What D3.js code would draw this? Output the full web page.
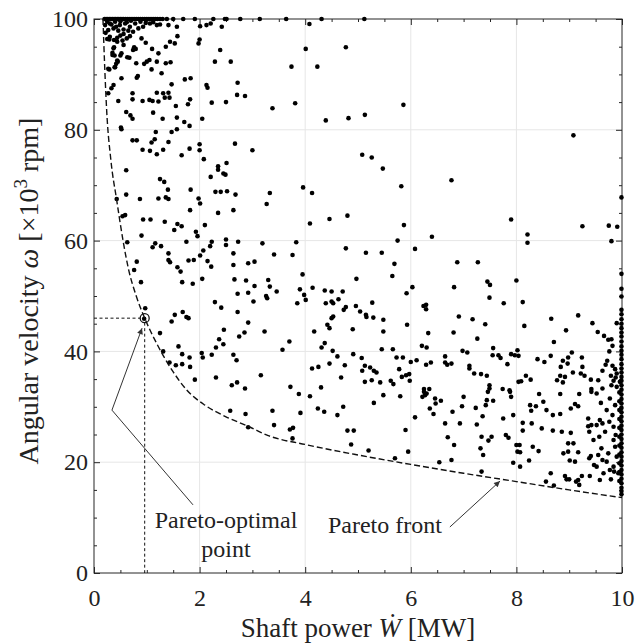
<!DOCTYPE html>
<html>
<head>
<meta charset="utf-8">
<script src="https://cdn.jsdelivr.net/npm/d3@7"></script>
<style>
  body { margin: 0; background: #fff; }
  svg text { font-family: "Liberation Serif", "Times New Roman", serif; fill: #222; }
</style>
</head>
<body>
<svg id="chart" width="635" height="644"></svg>
<script>
// Axes
const xMajor = [0, 2, 4, 6, 8, 10];
const yMajor = [0, 20, 40, 60, 80, 100];
const xMinor = d3.range(0, 10.01, 0.5);
const yMinor = d3.range(0, 100.1, 5);

// Designs sitting on the 100 krpm upper bound (W only)
const ceilingW = [0.20,0.23,0.26,0.29,0.32,0.35,0.38,0.41,0.44,0.47,0.50,0.53,0.56,0.60,0.64,0.68,0.72,0.76,0.80,0.84,0.88,0.92,0.96,1.00,1.04,1.08,1.12,1.16,1.20,1.25,1.30,1.38,1.50,1.69,1.91,2.26,2.48,2.51,2.77,3.14,3.64,4.31,5.12];

// Designs sitting on the 10 MW bound (omega only)
const edgeOmega = [67.8,54.0,51.3,49.9,47.5,46.7,45.8,45.0,44.2,43.4,42.7,41.8,40.9,40.1,39.4,38.6,37.7,36.9,36.2,35.4,34.7,33.9,33.1,32.2,31.4,30.6,29.8,29.0,28.2,27.4,26.6,25.8,25.0,24.2,23.4,22.6,21.8,21.0,20.2,19.4,18.6,17.8,17.0,16.2,15.4,14.8,14.2];
const edgeInnerOmega = [32.6,31.0,29.4,27.8,26.2,24.6,23.0,21.4,19.8,18.2,16.6];

// Scattered designs [W (MW), omega (x10^3 rpm)]
const upperPoints = [
[0.21,98.9],[0.30,99.2],[0.40,99.5],[0.49,98.9],[0.59,99.2],[0.68,98.6],[0.78,99.2],[0.27,98.0],[0.37,98.3],[0.46,97.9],[0.56,98.1],[0.65,97.9],[0.74,97.7],[0.84,98.3],[0.93,98.6],[1.06,99.2],[1.19,98.9],[1.41,98.9],[1.57,98.6],[0.68,96.9],[0.56,97.3],[0.29,96.3],[0.38,96.2],[0.44,95.9],[0.54,96.1],[0.56,95.3],[0.37,94.7],[0.35,93.9],[0.35,93.5],[0.52,93.8],[0.74,94.4],[0.90,96.5],[0.98,95.7],[1.10,94.6],[1.22,93.8],[1.44,95.9],[1.53,95.6],[1.36,95.0],[1.58,96.9],[1.98,95.6],[2.00,96.3],[2.01,98.7],[2.13,98.9],[2.21,99.2],[2.42,98.6],[2.39,94.4],[2.29,92.3],[2.59,92.3],[0.45,92.3],[0.42,91.9],[0.29,90.9],[0.40,91.3],[0.67,93.0],[0.80,92.0],[0.95,91.9],[1.00,92.3],[1.05,92.6],[1.19,92.3],[1.09,90.9],[1.36,92.0],[1.45,92.2],[1.28,90.2],[0.81,89.4],[0.83,89.7],[0.52,89.3],[0.37,88.1],[0.33,87.5],[0.73,86.6],[0.73,85.5],[0.27,86.6],[0.46,85.2],[0.92,85.2],[1.05,85.4],[1.11,85.2],[1.22,85.1],[1.19,86.7],[1.31,86.6],[1.34,85.8],[1.43,85.8],[1.41,86.7],[1.47,88.2],[1.72,89.1],[1.83,89.3],[2.13,88.1],[2.15,87.6],[2.72,88.5],[2.71,86.3],[2.86,86.1],[2.50,85.0],[2.23,84.9],[1.78,84.6],[1.82,85.5],[1.55,84.3],[0.61,83.2],[0.69,82.6],[0.73,82.0],[1.12,83.1],[1.30,82.0],[1.57,82.2],[1.71,81.4],[1.81,80.7],[2.05,82.0],[0.51,80.4],[0.52,80.1],[1.17,79.6],[1.47,79.6],[1.57,80.1],[0.73,78.1],[0.81,78.1],[1.15,78.3],[1.09,77.7],[1.41,77.8],[0.92,76.4],[1.06,76.2],[1.19,75.6],[1.31,76.4],[1.81,76.6],[2.00,77.4],[2.00,76.3],[1.66,75.4],[2.08,74.7],[2.67,77.5],[3.00,76.3],[2.35,73.4],[2.35,72.8],[2.51,74.0],[2.45,72.1],[2.49,71.9],[2.21,71.5],[0.61,72.7],[1.25,71.1],[1.33,70.6],[2.30,68.8],[2.40,68.8],[2.52,68.9],[2.68,68.3],[1.83,69.2],[1.40,69.2],[3.33,68.6],[0.43,67.5],[0.61,68.3],[0.87,67.5],[1.22,67.6],[1.36,67.8],[1.41,67.5],[1.98,67.6],
[0.25,99.5],[0.33,99.0],[0.42,98.6],[0.50,99.6],[0.62,99.4],[0.70,99.7],[0.88,99.5],[0.98,99.3],[1.12,99.4],[1.25,99.0],[0.22,97.5],[0.30,96.8],[0.50,97.0],[0.62,96.5],[0.25,96.4],[0.44,96.6],[0.38,94.9],[0.39,93.4],[0.44,92.5],[0.39,91.3],[0.27,91.0],[0.50,93.4],[0.76,94.9],[0.79,94.6],[0.63,93.1],
[4.08,99.1],[4.01,94.6],[4.77,94.9],[3.74,91.4],[4.23,91.4],[3.38,83.9],[3.81,84.8],[5.86,84.5],[4.39,81.7],[4.82,82.1],[5.13,82.7],[5.08,75.5],[5.26,75.0],[5.47,73.0],[5.82,69.8],[3.96,69.6],[4.13,68.6],[6.77,70.9],
[9.08,79.0]
];

const middlePoints = [
[2.01,66.7],[1.82,65.5],[2.35,65.0],[2.64,65.5],[3.27,66.6],[0.59,64.6],[0.54,64.4],[0.93,63.8],[1.07,63.8],[1.34,63.4],[1.58,63.0],[1.66,62.6],[1.52,61.9],[1.93,61.6],[2.10,62.8],[1.96,60.8],[0.90,60.9],[0.63,59.7],[1.75,59.8],[1.16,59.5],[1.11,58.8],[1.27,59.0],[2.23,59.8],[2.20,59.0],[2.50,60.2],[2.50,59.2],[2.73,59.8],[3.19,59.5],[1.41,57.7],[2.07,58.2],[2.01,57.3],[2.64,57.7],[1.41,56.5],[1.44,56.1],[1.79,56.4],[1.89,56.5],[2.15,56.3],[2.22,55.3],[2.64,55.6],[2.92,55.9],[3.04,56.2],[0.81,56.2],[0.76,54.7],[1.58,55.2],[1.64,54.4],[0.89,52.5],[1.67,52.5],[1.87,52.2],[2.05,53.1],[2.66,53.0],[2.88,52.8],[3.04,51.8],[3.30,52.9],[3.33,51.7],[2.72,50.4],[2.92,50.6],[3.26,50.0],[3.28,49.6],[3.02,49.0],[2.29,48.9],[2.41,47.9],[0.97,47.8],[0.95,45.9],[1.53,46.6],[1.68,47.1],[1.75,46.2],[1.79,46.0],[1.47,45.4],[2.72,47.1],[1.25,43.3],[2.46,43.9],[2.92,45.2],[2.85,43.4],[2.75,42.7],[2.37,42.2],[2.45,41.3],[3.23,43.6],[2.31,40.7],[1.60,40.9],[1.31,40.0],[1.67,39.5],[1.81,38.9],[2.04,39.7],[2.06,38.9],[2.23,39.4],[2.64,39.4],[2.70,38.4],[1.43,38.0],[1.55,37.5],[1.67,37.7],[1.82,37.2],[1.91,34.9],[2.31,35.3],[2.61,33.9],[2.71,34.4],[2.86,33.3],[3.16,35.7],
[4.09,63.1],[4.46,63.9],[4.80,64.5],[5.87,62.8],[6.40,60.7],[5.75,60.0],[3.83,59.7],[3.41,57.5],[3.76,57.4],[4.77,58.6],[5.15,57.8],[5.45,57.8],[6.08,58.5],[5.69,55.8],[5.65,53.6],[3.95,53.9],[4.97,53.1],[3.46,50.8],[3.90,51.2],[3.98,50.2],[4.01,49.3],[3.85,48.7],[4.14,51.5],[4.37,51.0],[4.50,50.8],[4.71,50.8],[4.39,48.7],[4.50,49.0],[4.53,48.7],[4.63,49.4],[4.77,48.0],[4.73,47.5],[4.96,48.2],[5.04,47.2],[5.15,46.6],[5.16,46.2],[5.27,48.8],[5.29,46.1],[5.48,45.7],[6.03,51.6],[5.92,50.5],[6.24,48.2],[6.29,48.4],[6.29,47.6],[4.53,46.3],[4.50,46.0],[4.42,44.8],[4.46,44.2],[4.90,44.0],[4.17,43.6],[5.48,43.6],[5.93,44.8],[6.33,43.3],[3.70,41.8],[3.57,40.3],[4.37,41.5],[4.31,40.7],[4.52,40.1],[4.61,39.1],[4.91,39.5],[5.07,38.8],[5.45,40.4],[5.66,40.4],[6.21,41.0],[6.30,40.7],[6.65,39.1],[6.65,38.0],[6.69,37.6],[5.73,38.9],[5.85,38.9],[6.11,38.4],[6.00,38.1],[6.29,37.6],[6.38,38.0],[4.46,37.8],[4.75,37.5],[4.13,36.9],[4.25,37.2],[5.13,37.4],[5.08,36.5],[5.23,37.1],[5.30,36.5],[5.35,36.2],[5.78,36.8],[5.91,35.7],[5.97,35.9],[5.83,35.4],[5.98,34.7],[4.68,35.3],[5.13,34.5],[5.26,34.8],[5.42,34.4],[5.62,34.7],[5.67,34.1],[6.25,33.2],[6.35,33.2],[3.72,33.6],[4.30,33.5],
[7.90,63.8],[8.21,61.1],[8.21,59.6],[9.25,62.6],[9.75,62.7],[9.91,62.5],[9.80,59.9],[6.88,56.1],[7.27,56.1],[6.82,51.6],[7.45,52.6],[7.50,52.0],[7.49,49.7],[8.00,52.8],[7.76,48.7],[8.12,48.9],[6.91,46.3],[7.17,45.8],[7.41,44.9],[8.15,44.6],[8.66,45.9],[9.17,46.5],[9.44,45.1],[8.94,43.8],[9.54,43.5],[9.66,42.8],[9.74,42.1],[9.80,42.2],[9.82,41.0],[9.76,40.0],[6.81,43.4],[7.26,42.3],[8.71,41.7],[6.98,40.1],[7.07,39.8],[6.77,37.8],[7.56,40.6],[7.55,39.3],[7.66,39.3],[7.70,38.8],[7.83,37.7],[7.90,39.5],[7.97,39.3],[8.04,39.2],[8.02,40.2],[8.40,38.6],[8.53,38.1],[8.65,39.2],[8.88,38.3],[8.97,37.8],[8.98,38.9],[9.05,39.8],[9.24,38.9],[9.25,37.2],[9.22,36.0],[9.29,35.6],[8.84,37.2],[9.07,36.2],[8.92,35.4],[8.83,35.6],[8.77,34.8],[8.88,34.4],[8.27,34.9],[8.18,35.6],[8.09,34.6],[8.04,34.5],[7.11,37.4],[7.11,36.9],[7.20,36.0],[7.33,35.9],[7.44,35.6],[7.49,33.9],[7.49,33.3],[7.74,33.2],[7.87,33.0],[9.41,34.9],[9.55,34.8],[9.63,36.5],[9.72,38.3],[9.69,37.6],[9.82,37.4],[9.87,36.8],[9.90,36.0],[9.79,35.6],[9.80,33.9],[9.84,34.7],[9.88,35.3],[9.96,34.5],[9.90,33.6],[9.63,33.3],[9.42,33.2],[9.90,45.1]
];

const lowerPoints = [
[2.58,29.3],[2.87,28.7],[2.92,26.3],
[3.88,32.3],[4.09,31.9],[3.38,29.3],[3.41,26.7],[3.91,28.9],[4.24,29.7],[4.36,29.1],[4.61,28.5],[4.72,30.0],[4.80,25.7],[4.92,25.7],[4.87,23.2],[3.71,25.9],[3.77,26.2],[3.76,24.3],[5.30,30.7],[5.48,32.1],[5.80,31.9],[5.20,22.1],[5.70,20.7],[5.95,21.9],[5.90,25.8],[6.08,28.1],[6.25,32.7],[6.27,32.1],[6.30,32.4],[6.22,31.8],[6.46,31.5],[6.47,30.6],[6.57,31.1],[6.36,29.7],[6.43,28.7],[6.65,27.0],[6.70,24.5],[6.54,20.0],
[7.00,31.8],[7.46,32.7],[7.88,32.7],[7.90,31.8],[6.97,30.1],[6.79,29.1],[7.23,29.8],[7.42,30.3],[7.44,31.2],[7.56,31.1],[7.36,28.3],[7.25,26.8],[6.93,27.0],[7.75,27.9],[7.94,28.5],[6.82,23.1],[6.77,20.4],[7.32,22.5],[7.37,21.3],[7.34,24.6],[7.47,23.9],[7.53,24.6],[7.80,24.9],[7.85,24.4],[7.34,18.3],[7.94,19.9],[8.07,19.2],[8.00,23.1],[8.06,23.1],[8.02,21.9],[8.07,21.8],[8.12,27.1],[8.12,25.7],[8.29,27.0],[8.24,20.3],[8.42,22.0],[8.31,22.8],[8.48,26.1],[8.43,32.3],[8.26,30.3],[8.37,30.1],[8.51,30.9],[8.28,29.3],[8.57,29.4],[8.69,28.5],[8.83,28.7],[8.83,32.3],[9.03,29.7],[9.11,30.5],[9.17,30.1],[9.19,32.3],[8.69,25.7],[8.86,25.5],[9.03,25.3],[8.98,23.4],[8.89,21.6],[8.98,21.9],[9.08,23.4],[9.17,21.8],[9.01,20.3],[9.11,20.1],[8.65,18.0],[8.56,16.5],[8.71,15.8],[8.92,17.5],[8.95,16.9],[9.00,16.9],[9.17,16.8],[9.19,15.9],[9.13,16.5],[9.24,17.5],[9.39,17.5],[9.58,16.8],[9.79,16.9],[9.36,27.9],[9.42,26.7],[9.52,26.7],[9.36,26.5],[9.38,25.5],[9.46,24.0],[9.41,21.1],[9.38,20.7],[9.47,19.5],[9.52,19.2],[9.63,20.4],[9.71,20.1],[9.55,21.3],[9.74,21.6],[9.61,22.5],[9.57,24.6],[9.68,25.5],[9.58,27.6],[9.63,27.0],[9.76,27.3],[9.82,28.5],[9.71,29.4],[9.60,30.7],[9.52,32.4],[9.42,32.7],[9.77,31.5],[9.87,30.3],[9.84,26.4],[9.84,24.0],[9.87,22.8],[9.84,19.2],[9.85,18.3],[9.93,18.0],[9.90,21.0],[9.88,24.9],[9.77,18.6],[9.65,18.0]
];

// Pareto front (dashed curve)
const frontW     = [0.17, 0.20, 0.24, 0.32, 0.43, 0.55, 0.65, 0.80, 0.96, 1.20, 1.50, 1.75, 2.10, 2.50, 2.94, 3.30, 4.00, 5.00, 6.00, 7.00, 8.00, 9.00, 10.0];
const frontOmega = [100,  92,   83.5, 74.5, 67.3, 60,   55,   50,   46,   41.2, 36.3, 33.1, 30.3, 28.2, 26.4, 24.8, 23.2, 21.3, 19.6, 18.0, 16.5, 15.0, 13.6];

// Pareto-optimal design
const optimum = [0.96, 46];

// Annotation anchors, in data units
const optLabelAt = [2.5, 8.1];
const optArrow = [[1.875, 12.3], [0.34, 29.4], [0.91, 44.2]];
const frontLabelAt = [5.51, 7.2];
const frontArrow = [[6.74, 8.3], [7.69, 16.6]];

const svg = d3.select('#chart');
const x = d3.scaleLinear().domain([0, 10]).range([94, 622]);
const y = d3.scaleLinear().domain([0, 100]).range([573, 19]);
const ink = '#262626';

svg.append('defs').append('marker')
  .attr('id', 'arrow').attr('viewBox', '0 0 10 10').attr('refX', 10).attr('refY', 5)
  .attr('markerWidth', 9).attr('markerHeight', 6).attr('markerUnits', 'userSpaceOnUse')
  .attr('orient', 'auto')
  .append('path').attr('d', 'M0,0L10,5L0,10z').attr('fill', '#333');

// grid
const grid = svg.append('g').attr('stroke', '#e6e6e6').attr('stroke-width', 1);
grid.selectAll('line.gx').data(xMajor.slice(1, -1)).enter().append('line')
  .attr('x1', d => x(d)).attr('x2', d => x(d)).attr('y1', y(0)).attr('y2', y(100));
grid.selectAll('line.gy').data(yMajor.slice(1, -1)).enter().append('line')
  .attr('y1', d => y(d)).attr('y2', d => y(d)).attr('x1', x(0)).attr('x2', x(10));

// axes with inward ticks on all four sides
function styleAxis(g) {
  g.selectAll('path, line').attr('stroke', ink);
  g.selectAll('text').style('font-size', '24px').attr('fill', '#222');
}
const minorX = xMinor.filter(v => !xMajor.includes(v));
const minorY = yMinor.filter(v => !yMajor.includes(v));

svg.append('g').attr('transform', `translate(0,${y(0)})`)
  .call(d3.axisBottom(x).tickValues(xMajor).tickSizeInner(-6).tickSizeOuter(0).tickPadding(16).tickFormat(d3.format('d')))
  .call(g => g.select('.domain').remove()).call(styleAxis);
svg.append('g').attr('transform', `translate(0,${y(0)})`)
  .call(d3.axisBottom(x).tickValues(minorX).tickSizeInner(-3).tickSizeOuter(0).tickFormat(''))
  .call(g => g.select('.domain').remove()).call(styleAxis);
svg.append('g').attr('transform', `translate(0,${y(100)})`)
  .call(d3.axisTop(x).tickValues(xMajor).tickSizeInner(-6).tickSizeOuter(0).tickFormat(''))
  .call(g => g.select('.domain').remove()).call(styleAxis);
svg.append('g').attr('transform', `translate(0,${y(100)})`)
  .call(d3.axisTop(x).tickValues(minorX).tickSizeInner(-3).tickSizeOuter(0).tickFormat(''))
  .call(g => g.select('.domain').remove()).call(styleAxis);
svg.append('g').attr('transform', `translate(${x(0)},0)`)
  .call(d3.axisLeft(y).tickValues(yMajor).tickSizeInner(-6).tickSizeOuter(0).tickPadding(6).tickFormat(d3.format('d')))
  .call(g => g.select('.domain').remove()).call(styleAxis);
svg.append('g').attr('transform', `translate(${x(0)},0)`)
  .call(d3.axisLeft(y).tickValues(minorY).tickSizeInner(-3).tickSizeOuter(0).tickFormat(''))
  .call(g => g.select('.domain').remove()).call(styleAxis);
svg.append('g').attr('transform', `translate(${x(10)},0)`)
  .call(d3.axisRight(y).tickValues(yMajor).tickSizeInner(-6).tickSizeOuter(0).tickFormat(''))
  .call(g => g.select('.domain').remove()).call(styleAxis);
svg.append('g').attr('transform', `translate(${x(10)},0)`)
  .call(d3.axisRight(y).tickValues(minorY).tickSizeInner(-3).tickSizeOuter(0).tickFormat(''))
  .call(g => g.select('.domain').remove()).call(styleAxis);

svg.append('rect')
  .attr('x', x(0)).attr('y', y(100)).attr('width', x(10) - x(0)).attr('height', y(0) - y(100))
  .attr('fill', 'none').attr('stroke', ink).attr('stroke-width', 1);

// scatter
const allPoints = ceilingW.map(w => [w, 100])
  .concat(edgeOmega.map(o => [9.99, o]))
  .concat(edgeInnerOmega.map(o => [9.95, o]))
  .concat(upperPoints, middlePoints, lowerPoints);

svg.append('g').selectAll('circle').data(allPoints).enter().append('circle')
  .attr('cx', d => x(d[0])).attr('cy', d => y(d[1])).attr('r', 2.3).attr('fill', '#000');

// Pareto front
const front = frontW.map((w, i) => [w, frontOmega[i]]);
svg.append('path').datum(front)
  .attr('d', d3.line().x(d => x(d[0])).y(d => y(d[1])).curve(d3.curveMonotoneX))
  .attr('fill', 'none').attr('stroke', '#111').attr('stroke-width', 1.4).attr('stroke-dasharray', '6,3');

// optimum guides and circle
const ox = x(optimum[0]), oy = y(optimum[1]), cr = 4.5;
svg.append('line').attr('x1', x(0)).attr('x2', ox - cr).attr('y1', oy).attr('y2', oy)
  .attr('stroke', '#111').attr('stroke-width', 1).attr('stroke-dasharray', '3,2.5');
svg.append('line').attr('x1', ox).attr('x2', ox).attr('y1', oy + cr).attr('y2', y(0))
  .attr('stroke', '#111').attr('stroke-width', 1).attr('stroke-dasharray', '3,2.5');
svg.append('circle').attr('cx', ox).attr('cy', oy).attr('r', cr)
  .attr('fill', 'none').attr('stroke', '#111').attr('stroke-width', 1.3);

// annotations
const pline = d3.line().x(d => x(d[0])).y(d => y(d[1]));
svg.append('path').datum(optArrow).attr('d', pline)
  .attr('fill', 'none').attr('stroke', '#333').attr('stroke-width', 1).attr('marker-end', 'url(#arrow)');
svg.append('path').datum(frontArrow).attr('d', pline)
  .attr('fill', 'none').attr('stroke', '#333').attr('stroke-width', 1).attr('marker-end', 'url(#arrow)');

const optText = svg.append('text').attr('text-anchor', 'middle').style('font-size', '24px');
optText.append('tspan').attr('x', x(optLabelAt[0])).attr('y', y(optLabelAt[1])).text('Pareto-optimal');
optText.append('tspan').attr('x', x(optLabelAt[0])).attr('dy', 29).text('point');
svg.append('text').attr('text-anchor', 'middle').style('font-size', '24px')
  .attr('x', x(frontLabelAt[0])).attr('y', y(frontLabelAt[1])).text('Pareto front');

// axis titles
const xt = svg.append('text').attr('text-anchor', 'middle').style('font-size', '27px')
  .attr('x', (x(0) + x(10)) / 2).attr('y', 637);
xt.append('tspan').text('Shaft power ');
xt.append('tspan').style('font-style', 'italic').text('Ẇ');
xt.append('tspan').text(' [MW]');

const yt = svg.append('text').attr('text-anchor', 'middle').style('font-size', '28px')
  .attr('transform', `translate(38,${(y(0) + y(100)) / 2 - 5}) rotate(-90)`);
yt.append('tspan').text('Angular velocity ');
yt.append('tspan').style('font-style', 'italic').text('ω');
yt.append('tspan').text(' [×10');
yt.append('tspan').attr('dy', -11).style('font-size', '19px').text('3');
yt.append('tspan').attr('dy', 11).text(' rpm]');
</script>
</body>
</html>
